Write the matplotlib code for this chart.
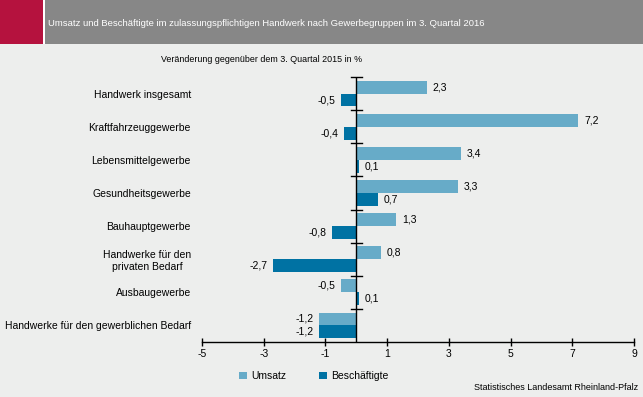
import matplotlib
matplotlib.use('Agg')
from matplotlib import pyplot as plt
from matplotlib.patches import Rectangle
import numpy as np

plt.rcParams['font.family'] = ['Liberation Sans', 'DejaVu Sans']

categories = ['Handwerk insgesamt', 'Kraftfahrzeuggewerbe', 'Lebensmittelgewerbe',
              'Gesundheitsgewerbe', 'Bauhauptgewerbe', 'Handwerke für den\nprivaten Bedarf',
              'Ausbaugewerbe', 'Handwerke für den gewerblichen Bedarf']
umsatz = [2.3, 7.2, 3.4, 3.3, 1.3, 0.8, -0.5, -1.2]
beschaeftigte = [-0.5, -0.4, 0.1, 0.7, -0.8, -2.7, 0.1, -1.2]
x_ticks = [-5, -3, -1, 1, 3, 5, 7, 9]

bg = '#EDEEED'
c_umsatz = '#67ABC8'
c_besch = '#0072A3'

fig = plt.figure(figsize=(6.43, 3.97), dpi=100, facecolor=bg)

# header bar
fig.patches.append(Rectangle((0, 1 - 44/397), 1, 44/397, transform=fig.transFigure,
                             facecolor='#878787', edgecolor='none'))
fig.patches.append(Rectangle((0, 1 - 44/397), 43/643, 44/397, transform=fig.transFigure,
                             facecolor='#B5123E', edgecolor='none'))
fig.patches.append(Rectangle((43/643, 1 - 44/397), 1.5/643, 44/397, transform=fig.transFigure,
                             facecolor='white', edgecolor='none'))
fig.text(48/643, 1 - 23/397,
         'Umsatz und Beschäftigte im zulassungspflichtigen Handwerk nach Gewerbegruppen im 3. Quartal 2016',
         color='white', fontsize=6.8, va='center', ha='left')
fig.text(262/643, 1 - 60/397, 'Veränderung gegenüber dem 3. Quartal 2015 in %',
         fontsize=6.4, ha='center', va='center')

ax = fig.add_axes([202/643, 55/397, 432/643, 265/397])
ax.set_facecolor(bg)

n = len(categories)
y = np.arange(n)
h = 0.39
ax.barh(y - h/2, umsatz, height=h, color=c_umsatz, label='Umsatz')
ax.barh(y + h/2, beschaeftigte, height=h, color=c_besch, label='Beschäftigte')

for yi, v in zip(y - h/2, umsatz):
    ax.annotate(f'{v:.1f}'.replace('.', ','), (v, yi), xytext=(4 if v >= 0 else -4, 0),
                textcoords='offset points', ha='left' if v >= 0 else 'right', va='center', fontsize=7.5)
for yi, v in zip(y + h/2, beschaeftigte):
    ax.annotate(f'{v:.1f}'.replace('.', ','), (v, yi), xytext=(4 if v >= 0 else -4, 0),
                textcoords='offset points', ha='left' if v >= 0 else 'right', va='center', fontsize=7.5)

ax.set_xlim(-5, 9)
ax.set_ylim(n - 0.5, -0.5)
ax.set_xticks(x_ticks)
ax.set_xticklabels([str(t) for t in x_ticks], fontsize=7.5)
ax.tick_params(axis='x', direction='inout', length=6, width=1, pad=2)

for s in ['top', 'right', 'left']:
    ax.spines[s].set_visible(False)
ax.spines['bottom'].set_linewidth(1)

# zero line with category boundary ticks
ax.axvline(0, color='black', lw=1)
for b in np.arange(-0.5, n - 0.5):
    ax.plot([-0.18, 0.18], [b, b], color='black', lw=1, clip_on=False)

ax.set_yticks(y)
ax.set_yticklabels(categories, fontsize=7.5, multialignment='center')
ax.tick_params(axis='y', length=0, pad=8)

ax.legend(loc='upper left', bbox_to_anchor=(0.065, -0.075), ncol=2, frameon=False, fontsize=7.5,
          handlelength=0.7, handleheight=0.7, columnspacing=3.2, handletextpad=0.4)

fig.text(638/643, 1 - 388/397, 'Statistisches Landesamt Rheinland-Pfalz',
         fontsize=6.5, ha='right', va='center')

fig.savefig('out.png', dpi=100, facecolor=bg)
